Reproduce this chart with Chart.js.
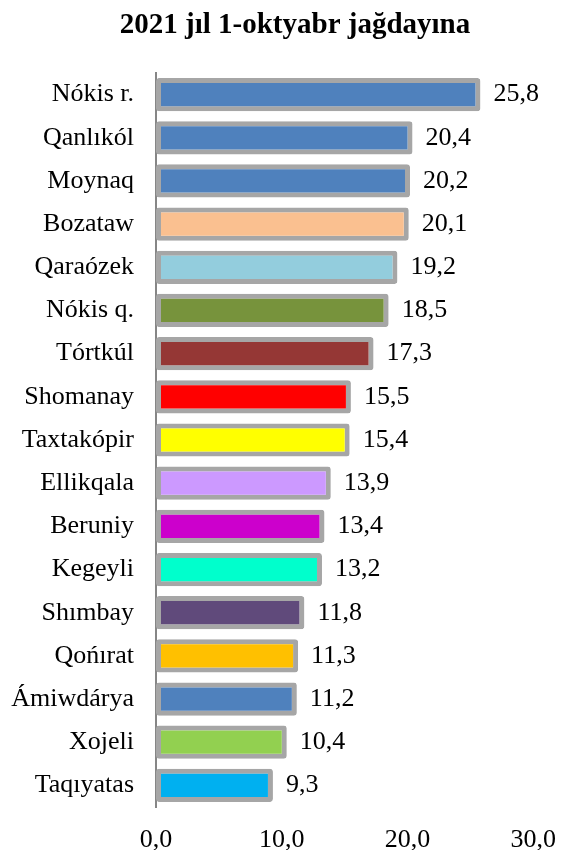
<!DOCTYPE html>
<html>
<head>
<meta charset="utf-8">
<script src="https://cdn.jsdelivr.net/npm/chart.js@4"></script>
<style>
  body { margin: 0; background: #fff; }
</style>
</head>
<body>
<canvas id="chart" width="576" height="850"></canvas>
<script>
// districts, top to bottom
const districts = [
    'Nókis r.', 'Qanlıkól', 'Moynaq', 'Bozataw', 'Qaraózek', 'Nókis q.',
    'Tórtkúl', 'Shomanay', 'Taxtakópir', 'Ellikqala', 'Beruniy', 'Kegeyli',
    'Shımbay', 'Qońırat', 'Ámiwdárya', 'Xojeli', 'Taqıyatas'
];
const values = [25.8, 20.4, 20.2, 20.1, 19.2, 18.5, 17.3, 15.5, 15.4, 13.9, 13.4, 13.2, 11.8, 11.3, 11.2, 10.4, 9.3];
const barColors = [
    '#4F81BD', '#4F81BD', '#4F81BD', '#FAC090', '#93CDDD', '#77933C',
    '#953735', '#FF0000', '#FFFF00', '#CC99FF', '#CC00CC', '#00FFCC',
    '#604A7B', '#FFC000', '#4F81BD', '#92D050', '#00B0F0'
];
const xTicks = [0, 10, 20, 30];
const chartTitle = '2021 jıl 1-oktyabr jağdayına';

const fmt = v => v.toFixed(1).replace('.', ',');
const serif = "'Liberation Serif', 'Times New Roman', serif";

// value labels right of each bar + the title (a bit right of centre, like the original)
const valueLabels = {
    id: 'valueLabels',
    afterDatasetsDraw(chart) {
        const ctx = chart.ctx;
        const meta = chart.getDatasetMeta(0);
        ctx.save();
        ctx.font = '26px ' + serif;
        ctx.fillStyle = '#000';
        ctx.textAlign = 'left';
        ctx.textBaseline = 'middle';
        meta.data.forEach((bar, i) => {
            ctx.fillText(fmt(values[i]), bar.x + 13, bar.y);
        });
        ctx.font = 'bold 29px ' + serif;
        ctx.textAlign = 'center';
        ctx.fillText(chartTitle, 295, 26);
        ctx.restore();
    }
};

new Chart(document.getElementById('chart').getContext('2d'), {
    type: 'bar',
    data: {
        labels: districts,
        datasets: [{
            data: values,
            backgroundColor: barColors,
            borderColor: '#A6A6A6',
            borderWidth: 5,
            borderSkipped: false,
            borderRadius: 3,
            barPercentage: 0.77,
            categoryPercentage: 1
        }]
    },
    options: {
        indexAxis: 'y',
        responsive: false,
        animation: false,
        layout: { padding: { top: 73, right: 28, left: 0, bottom: 0 } },
        plugins: {
            legend: { display: false },
            tooltip: { enabled: false },
            title: { display: false }
        },
        scales: {
            x: {
                min: 0,
                max: 30,
                afterBuildTicks: axis => { axis.ticks = xTicks.map(v => ({ value: v })); },
                afterFit: axis => { axis.height = 43; },
                grid: { display: false, drawTicks: false },
                border: { display: false },
                ticks: {
                    color: '#000',
                    font: { family: serif, size: 26, lineHeight: 1 },
                    padding: 20,
                    maxRotation: 0,
                    callback: v => fmt(v)
                }
            },
            y: {
                grid: { display: false, drawTicks: false },
                border: { display: true, color: '#868686', width: 2 },
                afterFit: axis => { axis.width = 156; },
                ticks: {
                    color: '#000',
                    font: { family: serif, size: 26 },
                    padding: 22
                }
            }
        }
    },
    plugins: [valueLabels]
});
</script>
</body>
</html>
